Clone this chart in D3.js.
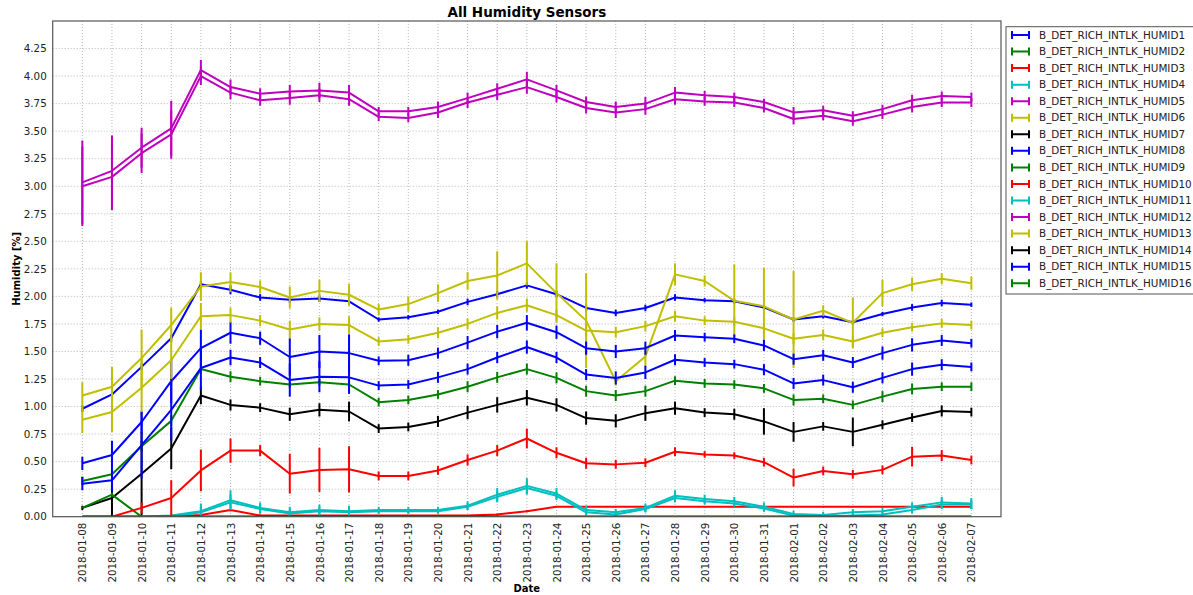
<!DOCTYPE html>
<html>
<head>
<meta charset="utf-8">
<script src="https://cdn.jsdelivr.net/npm/d3@7"></script>
<style>
  body { margin: 0; background: #fff; }
  text { font-family: "DejaVu Sans", sans-serif; fill: #222; }
  .grid line { stroke: #b8b8b8; stroke-dasharray: 1,2; }
  .title, .label { font-weight: bold; fill: #000; }
</style>
</head>
<body>
<div id="chart"></div>
<script>
var dates = ["2018-01-08","2018-01-09","2018-01-10","2018-01-11","2018-01-12","2018-01-13","2018-01-14","2018-01-15",
  "2018-01-16","2018-01-17","2018-01-18","2018-01-19","2018-01-20","2018-01-21","2018-01-22","2018-01-23",
  "2018-01-24","2018-01-25","2018-01-26","2018-01-27","2018-01-28","2018-01-29","2018-01-30","2018-01-31",
  "2018-02-01","2018-02-02","2018-02-03","2018-02-04","2018-02-05","2018-02-06","2018-02-07"];

var yTicks = [0, 0.25, 0.5, 0.75, 1, 1.25, 1.5, 1.75, 2, 2.25, 2.5, 2.75, 3, 3.25, 3.5, 3.75, 4, 4.25];

var sensorNames = ["B_DET_RICH_INTLK_HUMID1","B_DET_RICH_INTLK_HUMID2","B_DET_RICH_INTLK_HUMID3","B_DET_RICH_INTLK_HUMID4",
  "B_DET_RICH_INTLK_HUMID5","B_DET_RICH_INTLK_HUMID6","B_DET_RICH_INTLK_HUMID7","B_DET_RICH_INTLK_HUMID8",
  "B_DET_RICH_INTLK_HUMID9","B_DET_RICH_INTLK_HUMID10","B_DET_RICH_INTLK_HUMID11","B_DET_RICH_INTLK_HUMID12",
  "B_DET_RICH_INTLK_HUMID13","B_DET_RICH_INTLK_HUMID14","B_DET_RICH_INTLK_HUMID15","B_DET_RICH_INTLK_HUMID16"];

// matplotlib classic colour cycle b g r c m y k
var sensorColors = ["#0000ff","#008000","#ff0000","#00bfbf","#bf00bf","#bfbf00","#000000",
  "#0000ff","#008000","#ff0000","#00bfbf","#bf00bf","#bfbf00","#000000","#0000ff","#008000"];

// daily means
var humid1 = [0.98,1.11,1.36,1.62,2.11,2.06,1.99,1.97,1.98,1.955,1.79,1.81,1.86,1.95,2.02,2.10,2.02,1.895,1.85,1.895,1.99,1.965,1.955,1.90,1.79,1.82,1.765,1.84,1.90,1.94,1.925];
var humid2 = [0.325,0.385,0.64,0.87,1.34,1.27,1.23,1.20,1.22,1.20,1.04,1.06,1.11,1.18,1.265,1.34,1.26,1.14,1.10,1.14,1.235,1.21,1.20,1.165,1.06,1.07,1.015,1.09,1.16,1.18,1.18];
var humid3 = [0,0,0,0,0.015,0.06,0.01,0.01,0.01,0.01,0.01,0.01,0.01,0.01,0.02,0.05,0.09,0.09,0.09,0.09,0.09,0.09,0.09,0.09,0.09,0.09,0.09,0.09,0.09,0.09,0.09];
var humid4 = [0,0,0,0.01,0.05,0.15,0.08,0.04,0.06,0.05,0.06,0.06,0.06,0.10,0.20,0.28,0.21,0.06,0.04,0.08,0.19,0.16,0.14,0.09,0.025,0.015,0.04,0.05,0.09,0.13,0.12];
var humid5 = [3.035,3.14,3.35,3.525,4.055,3.90,3.84,3.86,3.87,3.85,3.68,3.68,3.72,3.80,3.885,3.97,3.87,3.765,3.72,3.75,3.85,3.825,3.81,3.765,3.67,3.69,3.64,3.70,3.78,3.82,3.81];
var humid6 = [1.10,1.18,1.44,1.74,2.09,2.13,2.085,1.99,2.05,2.015,1.88,1.93,2.03,2.14,2.19,2.30,2.03,1.78,1.23,1.455,2.20,2.14,1.96,1.91,1.79,1.87,1.76,2.03,2.11,2.16,2.12];
var humid7 = [0.08,0.17,0.39,0.62,1.10,1.015,0.99,0.93,0.97,0.955,0.80,0.815,0.865,0.945,1.015,1.08,1.015,0.895,0.87,0.94,0.985,0.945,0.93,0.865,0.77,0.82,0.77,0.835,0.90,0.96,0.95];
var humid8 = [0.485,0.56,0.86,1.23,1.53,1.67,1.62,1.45,1.50,1.485,1.415,1.42,1.485,1.58,1.68,1.76,1.675,1.53,1.50,1.53,1.645,1.63,1.615,1.555,1.43,1.465,1.40,1.485,1.56,1.60,1.575];
var humid9 = [0.08,0.20,0,0,0,0,0,0,0,0,0,0,0,0,0,0,0,0,0,0,0,0,0,0,0,0,0,0,0,0,0];
var humid10 = [0,0,0.08,0.17,0.42,0.60,0.60,0.39,0.425,0.43,0.37,0.37,0.42,0.515,0.60,0.71,0.58,0.485,0.475,0.49,0.59,0.565,0.555,0.495,0.355,0.415,0.385,0.425,0.545,0.555,0.515];
var humid11 = [0,0,0,0,0.04,0.13,0.07,0.03,0.05,0.04,0.05,0.05,0.05,0.09,0.18,0.26,0.19,0.04,0.02,0.07,0.17,0.14,0.12,0.075,0.01,0,0.01,0.02,0.06,0.11,0.11];
var humid12 = [3.0,3.085,3.30,3.47,4.0,3.85,3.78,3.80,3.825,3.79,3.63,3.62,3.67,3.76,3.83,3.90,3.81,3.71,3.67,3.70,3.79,3.77,3.76,3.71,3.61,3.64,3.59,3.65,3.72,3.76,3.76];
var humid13 = [0.88,0.95,1.17,1.42,1.82,1.83,1.78,1.70,1.75,1.74,1.59,1.61,1.67,1.75,1.85,1.92,1.83,1.69,1.675,1.73,1.82,1.78,1.77,1.71,1.615,1.65,1.59,1.67,1.72,1.755,1.74];
var humid14 = [0,0,0,0,0,0,0,0,0,0,0,0,0,0,0,0,0,0,0,0,0,0,0,0,0,0,0,0,0,0,0];
var humid15 = [0.30,0.33,0.65,0.97,1.35,1.445,1.40,1.24,1.27,1.265,1.19,1.20,1.265,1.34,1.445,1.54,1.445,1.29,1.26,1.31,1.425,1.40,1.385,1.335,1.21,1.24,1.175,1.26,1.34,1.38,1.36];
var humid16 = [0,0,0,0,0,0,0,0,0,0,0,0,0,0,0,0,0,0,0,0,0,0,0,0,0,0,0,0,0,0,0];

// daily spread (error bar half-height)
var err1 = [0.03,0.03,0.03,0.03,0.03,0.04,0.03,0.03,0.03,0.03,0.02,0.02,0.02,0.03,0.03,0.03,0.03,0.03,0.03,0.03,0.03,0.02,0.02,0.02,0.02,0.02,0.02,0.02,0.03,0.03,0.02];
var err2 = [0.04,0.05,0.05,0.05,0.03,0.05,0.04,0.03,0.03,0.03,0.04,0.04,0.04,0.05,0.05,0.05,0.05,0.05,0.05,0.05,0.04,0.04,0.04,0.04,0.05,0.04,0.04,0.05,0.05,0.04,0.04];
var err3 = [0,0,0,0,0.01,0.01,0.01,0,0,0,0,0,0,0,0.01,0.01,0,0,0,0,0,0,0,0,0,0,0,0,0,0,0];
var err4 = [0,0,0,0.01,0.07,0.09,0.05,0.05,0.05,0.05,0.03,0.03,0.03,0.04,0.06,0.07,0.05,0.04,0.03,0.04,0.05,0.04,0.04,0.04,0.03,0.03,0.03,0.03,0.04,0.05,0.05];
var err5 = [0.38,0.32,0.18,0.25,0.09,0.07,0.05,0.06,0.07,0.07,0.04,0.04,0.05,0.05,0.05,0.07,0.05,0.05,0.05,0.06,0.05,0.04,0.04,0.03,0.05,0.04,0.04,0.04,0.05,0.04,0.04];
var err6 = [0.12,0.18,0.26,0.16,0.13,0.09,0.06,0.1,0.1,0.1,0.05,0.07,0.08,0.08,0.22,0.2,0.27,0.43,0.04,0.1,0.1,0.05,0.33,0.35,0.44,0.05,0.23,0.12,0.06,0.05,0.06];
var err7 = [0.02,0.17,0.38,0.19,0.08,0.05,0.04,0.06,0.06,0.09,0.04,0.04,0.05,0.06,0.07,0.07,0.06,0.06,0.06,0.07,0.06,0.04,0.05,0.12,0.09,0.04,0.13,0.04,0.04,0.05,0.04];
var err8 = [0.06,0.13,0.1,0.2,0.17,0.1,0.06,0.17,0.15,0.17,0.04,0.05,0.05,0.06,0.06,0.07,0.06,0.06,0.06,0.06,0.05,0.04,0.04,0.05,0.05,0.05,0.05,0.06,0.06,0.05,0.04];
var err9 = [0,0.02,0,0,0,0,0,0,0,0,0,0,0,0,0,0,0,0,0,0,0,0,0,0,0,0,0,0,0,0,0];
var err10 = [0,0,0.05,0.16,0.19,0.11,0.05,0.18,0.2,0.21,0.04,0.04,0.04,0.05,0.05,0.09,0.05,0.05,0.04,0.04,0.04,0.03,0.03,0.04,0.08,0.04,0.04,0.04,0.09,0.05,0.04];
var err11 = [0,0,0,0,0.05,0.07,0.04,0.04,0.04,0.04,0.02,0.02,0.02,0.03,0.05,0.06,0.04,0.03,0.02,0.03,0.04,0.03,0.03,0.03,0.02,0.02,0.02,0.02,0.03,0.04,0.04];
var err12 = [0.36,0.3,0.18,0.22,0.08,0.06,0.05,0.06,0.06,0.06,0.04,0.04,0.05,0.05,0.05,0.06,0.05,0.05,0.05,0.05,0.05,0.04,0.04,0.04,0.05,0.04,0.04,0.04,0.05,0.04,0.04];
var err13 = [0.12,0.18,0.26,0.2,0.12,0.07,0.05,0.08,0.06,0.08,0.04,0.04,0.05,0.05,0.06,0.06,0.05,0.05,0.05,0.05,0.05,0.04,0.04,0.05,0.05,0.05,0.05,0.04,0.04,0.04,0.04];
var err14 = [0,0,0,0,0,0,0,0,0,0,0,0,0,0,0,0,0,0,0,0,0,0,0,0,0,0,0,0,0,0,0];
var err15 = [0.06,0.1,0.3,0.28,0.2,0.07,0.05,0.15,0.14,0.15,0.04,0.04,0.05,0.05,0.05,0.06,0.05,0.05,0.06,0.06,0.05,0.04,0.04,0.05,0.05,0.05,0.05,0.05,0.06,0.05,0.04];
var err16 = [0,0,0,0,0,0,0,0,0,0,0,0,0,0,0,0,0,0,0,0,0,0,0,0,0,0,0,0,0,0,0];

var means = [humid1,humid2,humid3,humid4,humid5,humid6,humid7,humid8,humid9,humid10,humid11,humid12,humid13,humid14,humid15,humid16];
var errs = [err1,err2,err3,err4,err5,err6,err7,err8,err9,err10,err11,err12,err13,err14,err15,err16];

var width = 1193,
    height = 595,
    plotLeft = 52.7, plotRight = 1001, plotTop = 21, plotBottom = 516.7;

var parseDay = d3.utcParse("%Y-%m-%d");
var days = dates.map(parseDay);

var x = d3.scaleUtc()
    .domain([d3.utcDay.offset(days[0], -1), d3.utcDay.offset(days[days.length - 1], 1)])
    .range([plotLeft, plotRight]);

var y = d3.scaleLinear()
    .domain([0, 4.5])
    .range([plotBottom, plotTop]);

var svg = d3.select("#chart").append("svg")
    .attr("width", width)
    .attr("height", height);

svg.append("defs").append("clipPath")
    .attr("id", "plot-clip")
  .append("rect")
    .attr("x", plotLeft).attr("y", plotTop)
    .attr("width", plotRight - plotLeft).attr("height", plotBottom - plotTop);

// grid
var grid = svg.append("g").attr("class", "grid");
grid.selectAll(".vgrid")
    .data(days)
  .enter().append("line")
    .attr("x1", function(d) { return x(d); })
    .attr("x2", function(d) { return x(d); })
    .attr("y1", plotTop).attr("y2", plotBottom);
grid.selectAll(".hgrid")
    .data(yTicks.slice(1))
  .enter().append("line")
    .attr("x1", plotLeft).attr("x2", plotRight)
    .attr("y1", function(d) { return y(d); })
    .attr("y2", function(d) { return y(d); });

// axes, labels only
var xAxis = svg.append("g")
    .attr("transform", "translate(0," + plotBottom + ")")
    .call(d3.axisBottom(x).tickValues(days).tickSize(0).tickFormat(d3.utcFormat("%Y-%m-%d")));
xAxis.select(".domain").remove();
xAxis.selectAll("text")
    .attr("font-size", "10.3px")
    .attr("font-family", "DejaVu Sans")
    .attr("fill", "#222")
    .attr("text-anchor", "end")
    .attr("transform", "rotate(-90)")
    .attr("x", -6)
    .attr("y", 0)
    .attr("dy", "0.35em");

var yAxis = svg.append("g")
    .attr("transform", "translate(" + plotLeft + ",0)")
    .call(d3.axisLeft(y).tickValues(yTicks).tickSize(0).tickPadding(6).tickFormat(d3.format(".2f")));
yAxis.select(".domain").remove();
yAxis.selectAll("text")
    .attr("font-size", "10.3px")
    .attr("font-family", "DejaVu Sans")
    .attr("fill", "#222");

// series: error bars then the line
var plot = svg.append("g").attr("clip-path", "url(#plot-clip)");

var line = d3.line()
    .x(function(d) { return x(d.day); })
    .y(function(d) { return y(d.value); });

means.forEach(function(vals, s) {
  var pts = vals.map(function(v, i) { return {day: days[i], value: v, err: errs[s][i]}; });
  var g = plot.append("g");

  g.selectAll(".bar")
      .data(pts.filter(function(d) { return d.err > 0; }))
    .enter().append("line")
      .attr("x1", function(d) { return x(d.day); })
      .attr("x2", function(d) { return x(d.day); })
      .attr("y1", function(d) { return y(d.value - d.err); })
      .attr("y2", function(d) { return y(d.value + d.err); })
      .attr("stroke", sensorColors[s])
      .attr("stroke-width", 2);

  g.append("path")
      .datum(pts)
      .attr("fill", "none")
      .attr("stroke", sensorColors[s])
      .attr("stroke-width", 2)
      .attr("stroke-linejoin", "round")
      .attr("d", line);
});

// frame
svg.append("rect")
    .attr("x", plotLeft).attr("y", plotTop)
    .attr("width", plotRight - plotLeft).attr("height", plotBottom - plotTop)
    .attr("fill", "none")
    .attr("stroke", "#555")
    .attr("stroke-width", 1.2);

// titles
svg.append("text")
    .attr("class", "title")
    .attr("x", (plotLeft + plotRight) / 2).attr("y", 17)
    .attr("text-anchor", "middle")
    .attr("font-size", "13.5px")
    .text("All Humidity Sensors");

svg.append("text")
    .attr("class", "label")
    .attr("transform", "translate(16," + ((plotTop + plotBottom) / 2) + ")rotate(-90)")
    .attr("text-anchor", "middle")
    .attr("dy", "0.35em")
    .attr("font-size", "10px")
    .text("Humidity [%]");

svg.append("text")
    .attr("class", "label")
    .attr("x", (plotLeft + plotRight) / 2).attr("y", 592)
    .attr("text-anchor", "middle")
    .attr("font-size", "10px")
    .text("Date");

// legend
var legend = svg.append("g");
legend.append("rect")
    .attr("x", 1006).attr("y", 26.7)
    .attr("width", 200).attr("height", 267.3)
    .attr("fill", "#fff")
    .attr("stroke", "#555")
    .attr("stroke-width", 1);

var item = legend.selectAll(".item")
    .data(sensorNames)
  .enter().append("g")
    .attr("transform", function(d, i) { return "translate(0," + (35 + i * 16.55) + ")"; });

item.append("path")
    .attr("d", "M1012,-4V4M1012,0H1029M1029,-4V4")
    .attr("fill", "none")
    .attr("stroke", function(d, i) { return sensorColors[i]; })
    .attr("stroke-width", 2);

item.append("text")
    .attr("x", 1039)
    .attr("dy", "0.35em")
    .attr("font-size", "10.4px")
    .attr("fill", "#222")
    .text(function(d) { return d; });
</script>
</body>
</html>
